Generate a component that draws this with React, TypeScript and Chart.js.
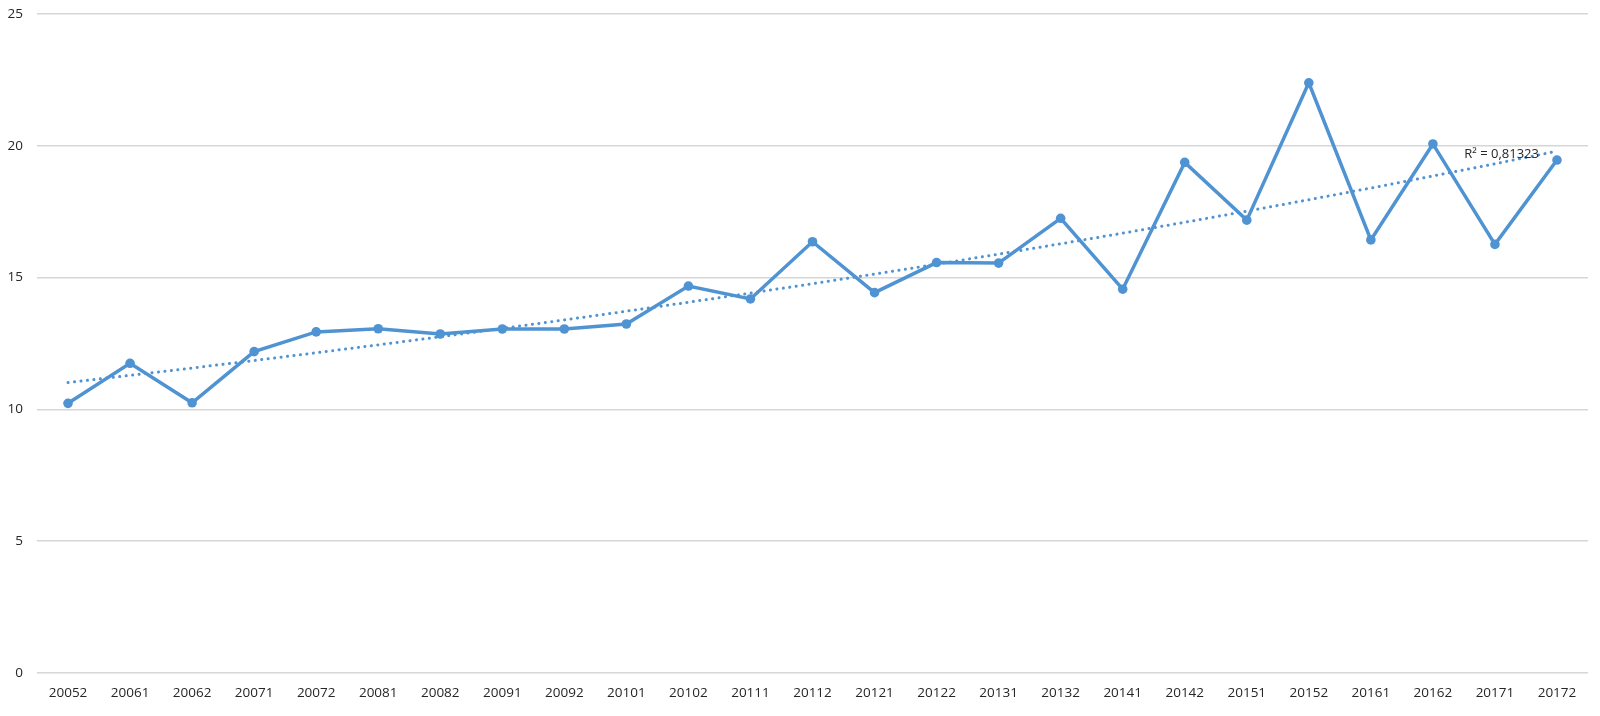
import React, { useEffect, useRef } from "react";
import { Chart, registerables } from "chart.js";

Chart.register(...registerables);

const categories = [
  "20052", "20061", "20062", "20071", "20072", "20081", "20082", "20091", "20092",
  "20101", "20102", "20111", "20112", "20121", "20122", "20131", "20132",
  "20141", "20142", "20151", "20152", "20161", "20162", "20171", "20172",
];

const values = [
  10.23, 11.75, 10.25, 12.19, 12.94, 13.06, 12.86, 13.05, 13.05,
  13.24, 14.68, 14.19, 16.36, 14.43, 15.57, 15.55, 17.25,
  14.56, 19.37, 17.18, 22.39, 16.43, 20.07, 16.26, 19.46,
];

const yTicks = [0, 5, 10, 15, 20, 25];
const r2Label = "R² = 0,81323";

// Exponential trendline (least squares on ln(y)), as the spreadsheet draws it
function exponentialTrend(ys: number[]): number[] {
  const n = ys.length;
  const xs = ys.map((_, i) => i);
  const ls = ys.map((v) => Math.log(v));
  const mx = xs.reduce((a, b) => a + b, 0) / n;
  const ml = ls.reduce((a, b) => a + b, 0) / n;
  let sxy = 0;
  let sxx = 0;
  for (let i = 0; i < n; i++) {
    sxy += (xs[i] - mx) * (ls[i] - ml);
    sxx += (xs[i] - mx) * (xs[i] - mx);
  }
  const b = sxy / sxx;
  const a = ml - b * mx;
  return xs.map((x) => Math.exp(a + b * x));
}

const trend = exponentialTrend(values);

const LINE_COLOR = "#5093d3";
const FONT = "'Open Sans', 'Liberation Sans', sans-serif";

const r2Plugin = {
  id: "r2Label",
  afterDatasetsDraw(chart: any) {
    const { ctx, scales } = chart;
    const last = trend.length - 1;
    const x = scales.x.getPixelForValue(last);
    const y = scales.y.getPixelForValue(trend[last]);
    ctx.save();
    ctx.font = `13px ${FONT}`;
    ctx.fillStyle = "#262626";
    ctx.textAlign = "right";
    ctx.textBaseline = "middle";
    ctx.fillText(r2Label, x - 18, y + 3);
    ctx.restore();
  },
};

export default function App() {
  const canvasRef = useRef<HTMLCanvasElement | null>(null);

  useEffect(() => {
    document.body.style.margin = "0";
    const canvas = canvasRef.current;
    if (!canvas) return;
    const chart = new Chart(canvas, {
      type: "line",
      data: {
        labels: categories,
        datasets: [
          {
            label: "Trend",
            data: trend,
            borderColor: LINE_COLOR,
            borderWidth: 3,
            borderDash: [0.1, 6.4],
            borderCapStyle: "round",
            pointRadius: 0,
            fill: false,
            tension: 0,
            order: 2,
          },
          {
            label: "Series",
            data: values,
            borderColor: LINE_COLOR,
            backgroundColor: LINE_COLOR,
            borderWidth: 3.5,
            pointRadius: 4.8,
            pointBorderWidth: 0,
            pointBackgroundColor: LINE_COLOR,
            fill: false,
            tension: 0,
            order: 1,
          },
        ],
      },
      options: {
        animation: false,
        responsive: false,
        maintainAspectRatio: false,
        devicePixelRatio: 1,
        layout: { padding: { top: 14, right: 12, left: 0, bottom: 0 } },
        plugins: {
          legend: { display: false },
          tooltip: { enabled: false },
        },
        scales: {
          x: {
            type: "category",
            offset: true,
            grid: { display: false, drawTicks: false },
            border: { display: false },
            ticks: {
              color: "#262626",
              font: { family: FONT, size: 13.5 },
              padding: 12,
              maxRotation: 0,
              autoSkip: false,
            },
            afterFit(axis: any) {
              axis.height = 43;
            },
          },
          y: {
            min: 0,
            max: 25,
            grid: { color: "#d6d6d6", lineWidth: 1.5, drawTicks: false },
            border: { display: false },
            afterBuildTicks(axis: any) {
              axis.ticks = yTicks.map((v) => ({ value: v }));
            },
            ticks: {
              color: "#262626",
              font: { family: FONT, size: 13.5 },
              padding: 14,
            },
            afterFit(axis: any) {
              axis.width = 37;
              axis.paddingTop = 0;
              axis.paddingBottom = 0;
            },
          },
        },
      },
      plugins: [r2Plugin],
    } as any);
    return () => chart.destroy();
  }, []);

  return (
    <div style={{ width: 1600, height: 716, background: "#ffffff" }}>
      <canvas ref={canvasRef} width={1600} height={716} style={{ display: "block" }} />
    </div>
  );
}
